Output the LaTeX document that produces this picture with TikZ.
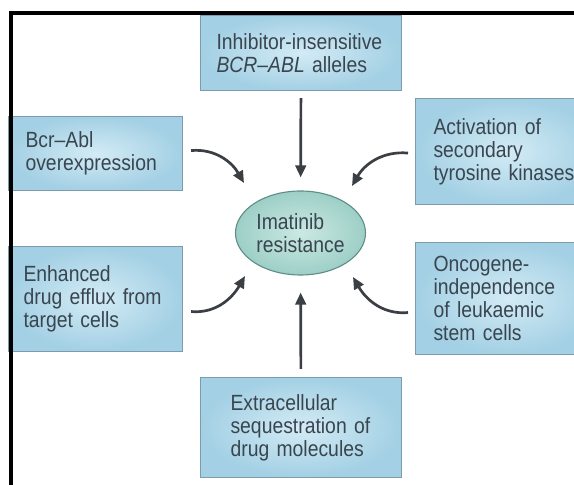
\documentclass[tikz,border=0pt]{standalone}
\usepackage{fontspec}
\setmainfont{Liberation Sans}[FakeStretch=0.88]
\usetikzlibrary{arrows.meta,shapes.geometric}
\definecolor{boxin}{HTML}{D3EBF5}
\definecolor{boxout}{HTML}{A3D0E4}
\definecolor{boxline}{HTML}{7C9CAD}
\definecolor{ellin}{HTML}{CBE9E3}
\definecolor{ellout}{HTML}{9DCFC6}
\definecolor{ellline}{HTML}{5F8D87}
\definecolor{txt}{HTML}{39454F}
\definecolor{arrcol}{HTML}{3B3F44}
\begin{document}
\begin{tikzpicture}[x=1pt,y=1pt,
  box/.style={draw=boxline, line width=1.1pt, inner color=boxin, outer color=boxout,
    anchor=north west, align=left, text=txt, font=\fontsize{22}{23}\selectfont, inner ysep=0pt},
  hub/.style={ellipse, draw=ellline, line width=1.1pt, inner color=ellin, outer color=ellout,
    align=left, text=txt, font=\fontsize{22}{23.5}\selectfont, inner sep=0pt,
    minimum width=130pt, minimum height=84pt},
  conn/.style={draw=arrcol, line width=2.7pt, -{Triangle[length=12pt,width=10.5pt]}},
  frame/.style={line width=3.4pt, black}]
\useasboundingbox[fill=white] (0,0) rectangle (574,485);

\node[box, inner xsep=16pt, text width=169pt, minimum height=75pt] (top) at (200,470)
  {Inhibitor-insensitive\\\textit{BCR–ABL} alleles};
\node[box, inner xsep=17pt, text width=140pt, minimum height=74pt] (bcr) at (8,369)
  {Bcr–Abl\\overexpression};
\node[box, inner xsep=18pt, text width=149pt, minimum height=106pt] (act) at (415,387)
  {Activation of\\secondary\\tyrosine kinases};
\node[box, inner xsep=15pt, text width=144pt, minimum height=105pt] (eff) at (8,239)
  {Enhanced\\drug efflux from\\target cells};
\node[box, inner xsep=18pt, text width=149pt, minimum height=112pt] (onc) at (415,243)
  {Oncogene-\\independence\\of leukaemic\\stem cells};
\node[box, inner xsep=30pt, text width=141pt, minimum height=100pt] (bot) at (200,108)
  {Extracellular\\sequestration of\\drug molecules};

\node[hub] (res) at (300.5,252) {Imatinib\\resistance};

\coordinate (t1) at (244,302);
\coordinate (t2) at (352,299);
\coordinate (t3) at (245,209);
\coordinate (t4) at (353,208);

\draw[conn, shorten <=7pt, shorten >=13pt] (top) -- (res);
\draw[conn, shorten <=8pt, shorten >=17pt] (bot) -- (res);
\draw[conn] ([shift={(8,3)}]bcr.east) to[out=5,in=120] (t1);
\draw[conn] ([shift={(-7,-1.5)}]act.west) to[out=175,in=60] (t2);
\draw[conn] ([shift={(8,-12.5)}]eff.east) to[out=-5,in=240] (t3);
\draw[conn] ([shift={(-7,-14)}]onc.west) to[out=185,in=300] (t4);

\draw[frame] (574,472) -- (11,472) -- (11,0);
\end{tikzpicture}
\end{document}
